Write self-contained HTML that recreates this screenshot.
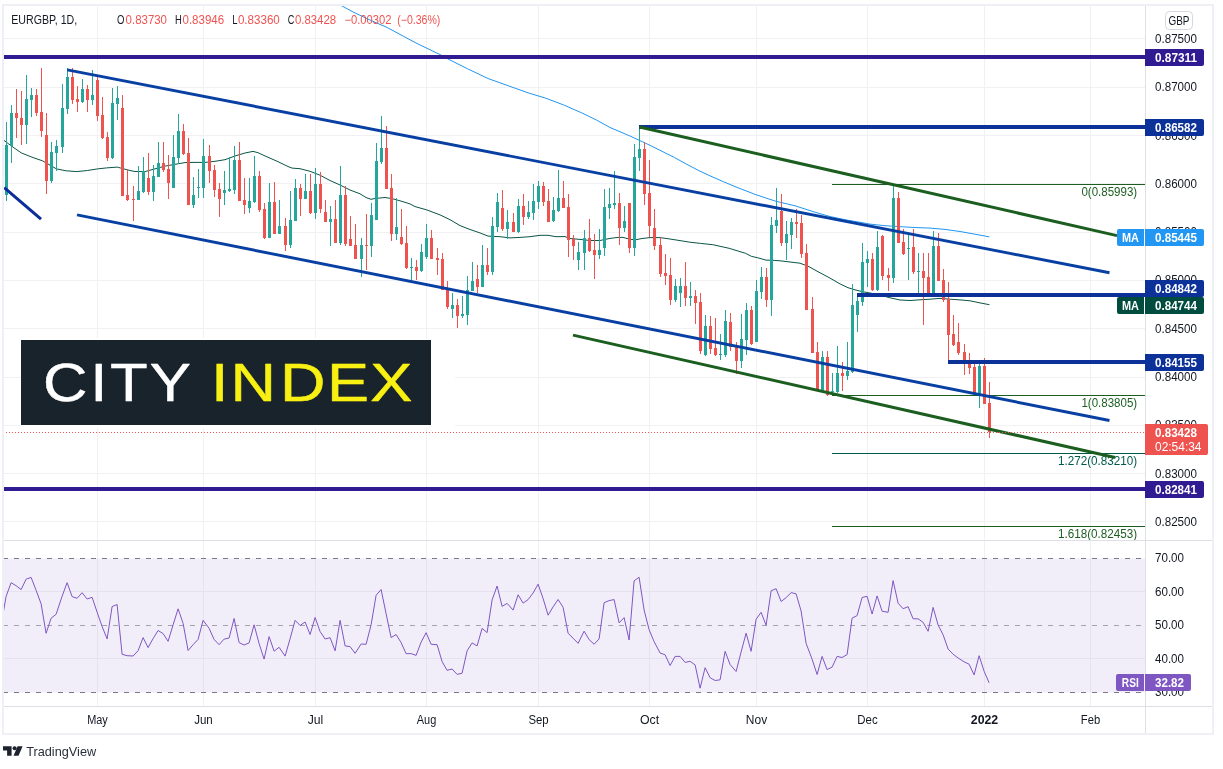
<!DOCTYPE html>
<html lang="en">
<head>
<meta charset="utf-8">
<title>EURGBP 1D chart</title>
<style>
html,body{margin:0;padding:0;background:#ffffff;}
body{width:1223px;height:769px;overflow:hidden;font-family:"Liberation Sans", Arial, sans-serif;}
svg{display:block;}
text{white-space:pre;}
</style>
</head>
<body>
<svg width="1223" height="769" viewBox="0 0 1223 769" font-family='"Liberation Sans", Arial, sans-serif'>
<rect x="0" y="0" width="1223" height="769" fill="#ffffff"/>
<path d="M97.5 6V706M203.5 6V706M315.5 6V706M426.5 6V706M538.5 6V706M649.5 6V706M756.5 6V706M867.5 6V706M984.5 6V706M1090.5 6V706M4 38.5H1145M4 87.5H1145M4 135.5H1145M4 183.5H1145M4 232.5H1145M4 280.5H1145M4 328.5H1145M4 377.5H1145M4 425.5H1145M4 473.5H1145M4 521.5H1145M4 591.5H1145M4 658.5H1145" stroke="#f1f1f3" stroke-width="1" fill="none" shape-rendering="crispEdges"/>
<rect x="4" y="558.5" width="1141" height="134" fill="#7e57c2" fill-opacity="0.1"/>
<path d="M3 558.5H1145" stroke="#787b86" stroke-opacity="1" stroke-width="1" stroke-dasharray="5 6" fill="none" shape-rendering="crispEdges"/>
<path d="M3 625.5H1145" stroke="#787b86" stroke-opacity="0.65" stroke-width="1" stroke-dasharray="5 6" fill="none" shape-rendering="crispEdges"/>
<path d="M3 692.5H1145" stroke="#787b86" stroke-opacity="1" stroke-width="1" stroke-dasharray="5 6" fill="none" shape-rendering="crispEdges"/>
<polyline fill="none" stroke="#7e57c2" stroke-width="1" stroke-linejoin="round" points="3.5,611.5 6.1,596.4 11.1,582.7 16.1,585.7 21.1,589.6 26.1,579.2 31.1,577.4 36.1,590.3 41.1,603.8 46.1,633.3 51.1,618.2 56.1,614.3 62.1,596.2 67.1,582.7 72.1,596.6 77.1,598.3 82.1,592.7 87.1,599 92.1,597.3 97.1,612.2 102.1,626.5 107.1,638.9 112.1,606.6 117.1,604.5 122.1,654.3 127.1,655.7 133.1,656 138.1,650.7 143.1,637.6 148.1,647.6 153.1,638.6 158.1,630.5 163.1,633.6 168.1,641.3 173.1,624.8 178.1,608.8 183.1,623.4 188.1,650.5 193.1,644.7 198.1,639.4 203.1,620.3 209.1,628.3 214.1,639.4 219.1,644.7 224.1,639.1 229.1,638 234.1,618.5 239.1,642.6 244.1,645 249.1,642.9 254.1,624.8 259.1,643.6 264.1,659.1 269.1,636.6 274.1,651.2 279.1,647.3 285.1,656.1 290.1,638.7 295.1,620.3 300.1,625.5 305.1,622 310.1,634.5 315.1,617.5 320.1,631.5 325.1,639 330.1,637.7 335.1,650.8 340.1,620.3 345.1,645.9 350.1,646.6 355.1,653.3 361.1,644 366.1,644.3 371.1,624.8 376.1,595.3 381.1,589.5 386.1,613.7 391.1,637.6 396.1,634.5 401.1,642.6 406.1,653.7 411.1,653.6 416.1,655.4 421.1,642.2 426.1,632.7 431.1,644.3 437.1,644.7 442.1,661.6 447.1,670.3 452.1,669 457.1,674.4 462.1,673.2 467.1,650.8 472.1,642.9 477.1,645.9 482.1,628.4 487.1,632.6 492.1,599.9 497.1,586 502.1,606.4 507.1,603.4 513.1,610.1 518.1,594.8 523.1,603.1 528.1,599.6 533.1,593 538.1,584.2 543.1,598.5 548.1,615.2 553.1,606.9 558.1,599.5 563.1,607.3 568.1,633.3 573.1,638.2 578.1,643.3 584.1,631.2 589.1,639.6 594.1,644.2 599.1,638.9 604.1,602.7 609.1,600.6 614.1,599.6 619.1,622.9 624.1,617.6 629.1,640 634.1,580.9 639.1,577.2 644.1,610 649.1,629.7 654.1,641.6 660.1,653 665.1,654.8 670.1,665.5 675.1,656.4 680.1,656.4 685.1,662.4 690.1,661.3 695.1,664.9 700.1,688.2 705.1,667.7 710.1,677.7 715.1,680.5 720.1,679.8 725.1,651.3 730.1,664.5 736.1,671.5 741.1,652 746.1,633.2 751.1,651.3 756.1,619.3 761.1,612.3 766.1,625.3 771.1,590.8 776.1,588.7 781.1,601.5 786.1,597.7 791.1,592.6 796.1,593.8 801.1,611 806.1,643.4 812.1,659.2 817.1,674.5 822.1,656.4 827.1,669.6 832.1,667.1 837.1,656.4 842.1,657.5 847.1,654.6 852.1,618.1 857.1,615.6 862.1,597.5 867.1,596.3 872.1,614 877.1,595.9 882.1,611.2 888.1,612.3 893.1,580.6 898.1,603.2 903.1,608.7 908.1,606.7 913.1,618.8 918.1,618.8 923.1,622.3 928.1,631.3 933.1,607.4 938.1,625 943.1,634.8 948.1,649 953.1,654.2 958.1,658 964.1,661.8 969.1,664.2 974.1,674.9 979.1,655.7 984.1,671.2 989.1,682.8"/>
<clipPath id="mainclip"><rect x="4" y="6" width="1141" height="534"/></clipPath>
<g clip-path="url(#mainclip)">
<polyline fill="none" stroke="#2196f3" stroke-width="1.0" stroke-linejoin="round" points="338.5,4 340.3,5 352.9,11.9 371.2,20.6 387.2,27.5 403.3,36.2 417,43.5 439.9,54.5 449,59.5 467.4,68.7 488,78.5 508.6,85.9 529.2,93.2 545.2,98 563.5,104.9 581.8,112.9 596.4,120 610,127.5 630,136 650,145.3 662,151.3 674.6,157.6 687,164.4 699,170.7 711,176.3 723.7,181.8 737,187.4 750,192.4 755,194.4 775,201 795,205.8 815,212.2 830,216.5 845,219.7 860,222.3 870,224.1 885,225.7 900,226.7 915,227.5 930,228.1 945,229.4 960,231.5 975,234.2 989.4,236.9"/>
<polyline fill="none" stroke="#0a5546" stroke-width="1.0" stroke-linejoin="round" points="3.2,139.8 11.4,146 21.3,152.9 32,157.2 42.7,160.9 56.5,168.9 66.1,170.8 76.8,171.6 87.4,170.5 97.5,168.9 106.6,167.9 117.3,167.1 122.6,168.6 130,170.5 135,171.5 145,171.6 155,168.8 165,166.1 175,164.3 185,162.6 195,162.4 205,162.4 215,161.3 225,159.7 235,156 245,153 253,151.4 258,152.7 266,156.4 277,161.2 288,166.5 292,168.1 300,168.7 310,171.3 320,175.2 330,180.5 340,185 350,190 360,193.8 366,197.5 371,199.3 375,198.5 385,197.5 392,198.6 400,200.8 410,203.9 415,206.6 426.5,209.8 440,214.9 450,219.7 460,225.6 470,229.5 480,232.9 488,236.1 500,236.7 510,237.9 520,237.4 530,236.7 540,235.3 548,235.3 556,236.7 565,236.6 570,238.5 580,239.4 590,240.5 600,240.5 610,238.4 618,237.4 623,237.4 630,239.3 636,239.7 642,238.5 650,237.6 660,237.6 670,239 680,240.6 689.8,242.2 700.5,243.4 712.8,244.7 721,246.5 729.1,248.3 737.3,250.8 745.5,253.3 751.3,256.3 757.8,257.8 766,260.1 774.2,260.4 780,260.8 790,262 800,263.2 808,266.2 818,271.7 830,278.1 840,283.9 848,287.7 855,289.8 862,291.6 870,293 880,295 890,297.8 900,300 910,300.5 920,299.8 930,299.2 940,298.4 950,299.2 960,299.9 970,300.8 980,302.9 989.4,304.7"/>
</g>
<path d="M6 122h1V201h-1zM11 105h1V163h-1zM26 75h1V144h-1zM31 88h1V117h-1zM51 142h1V183h-1zM56 140h1V171h-1zM62 84h1V153h-1zM67 68h1V114h-1zM82 79h1V103h-1zM92 70h1V105h-1zM112 88h1V159h-1zM117 86h1V120h-1zM138 166h1V200h-1zM143 157h1V193h-1zM153 165h1V201h-1zM158 142h1V177h-1zM173 135h1V188h-1zM178 114h1V164h-1zM193 177h1V208h-1zM198 169h1V198h-1zM203 139h1V198h-1zM224 171h1V205h-1zM229 157h1V192h-1zM234 146h1V194h-1zM249 178h1V213h-1zM254 156h1V203h-1zM269 183h1V238h-1zM279 200h1V234h-1zM290 191h1V248h-1zM295 179h1V221h-1zM305 174h1V199h-1zM315 168h1V219h-1zM330 206h1V246h-1zM340 166h1V245h-1zM361 238h1V277h-1zM371 203h1V257h-1zM376 143h1V220h-1zM381 116h1V164h-1zM396 198h1V240h-1zM411 258h1V281h-1zM421 244h1V272h-1zM426 224h1V259h-1zM452 293h1V318h-1zM462 296h1V318h-1zM467 276h1V325h-1zM472 262h1V291h-1zM482 245h1V287h-1zM492 217h1V275h-1zM497 193h1V232h-1zM507 210h1V239h-1zM518 199h1V233h-1zM528 201h1V219h-1zM533 184h1V220h-1zM538 181h1V209h-1zM553 197h1V222h-1zM558 170h1V212h-1zM578 242h1V270h-1zM584 230h1V270h-1zM599 229h1V259h-1zM604 189h1V256h-1zM609 188h1V219h-1zM614 171h1V209h-1zM624 206h1V232h-1zM634 144h1V256h-1zM639 127h1V171h-1zM675 279h1V302h-1zM680 278h1V307h-1zM690 282h1V306h-1zM705 315h1V356h-1zM720 334h1V360h-1zM725 310h1V357h-1zM741 314h1V368h-1zM746 303h1V355h-1zM756 280h1V342h-1zM761 267h1V299h-1zM771 217h1V316h-1zM776 188h1V233h-1zM786 221h1V260h-1zM791 218h1V249h-1zM822 351h1V391h-1zM832 373h1V395h-1zM837 346h1V393h-1zM847 342h1V380h-1zM852 284h1V373h-1zM857 293h1V332h-1zM862 243h1V306h-1zM867 251h1V287h-1zM877 231h1V291h-1zM893 186h1V283h-1zM908 235h1V280h-1zM918 253h1V293h-1zM933 231h1V294h-1zM979 364h1V408h-1zM5 145h3V195h-3zM10 113h3V146h-3zM25 99h3V125h-3zM30 95h3V100h-3zM50 152h3V181h-3zM55 146h3V153h-3zM61 108h3V147h-3zM66 77h3V109h-3zM81 89h3V102h-3zM91 95h3V100h-3zM111 103h3V158h-3zM116 98h3V104h-3zM137 191h3V200h-3zM142 171h3V192h-3zM152 176h3V192h-3zM157 163h3V177h-3zM172 157h3V188h-3zM177 131h3V158h-3zM192 195h3V205h-3zM197 187h3V188h-3zM202 156h3V188h-3zM223 190h3V193h-3zM228 189h3V191h-3zM233 160h3V190h-3zM248 201h3V208h-3zM253 176h3V202h-3zM268 202h3V238h-3zM278 226h3V234h-3zM289 220h3V245h-3zM294 188h3V221h-3zM304 191h3V199h-3zM314 184h3V213h-3zM329 219h3V222h-3zM339 195h3V243h-3zM360 245h3V259h-3zM370 215h3V246h-3zM375 161h3V220h-3zM380 148h3V162h-3zM395 227h3V234h-3zM410 267h3V268h-3zM420 252h3V271h-3zM425 238h3V257h-3zM451 305h3V309h-3zM461 314h3V316h-3zM466 290h3V315h-3zM471 281h3V291h-3zM481 265h3V287h-3zM491 226h3V272h-3zM496 202h3V227h-3zM506 222h3V229h-3zM517 206h3V232h-3zM527 212h3V217h-3zM532 201h3V213h-3zM537 186h3V202h-3zM552 210h3V221h-3zM557 198h3V211h-3zM577 252h3V260h-3zM583 238h3V253h-3zM598 250h3V255h-3zM603 207h3V248h-3zM608 204h3V208h-3zM613 203h3V205h-3zM623 221h3V228h-3zM633 157h3V248h-3zM638 149h3V158h-3zM674 286h3V300h-3zM679 286h3V293h-3zM689 296h3V298h-3zM704 326h3V355h-3zM719 354h3V355h-3zM724 321h3V355h-3zM740 339h3V361h-3zM745 310h3V340h-3zM755 291h3V342h-3zM760 277h3V292h-3zM770 225h3V300h-3zM775 220h3V226h-3zM785 234h3V243h-3zM790 222h3V235h-3zM821 357h3V390h-3zM831 391h3V392h-3zM836 373h3V392h-3zM846 371h3V376h-3zM851 305h3V372h-3zM856 301h3V315h-3zM861 262h3V302h-3zM866 259h3V263h-3zM876 247h3V290h-3zM892 198h3V278h-3zM907 248h3V249h-3zM917 271h3V272h-3zM932 246h3V294h-3zM978 366h3V394h-3z" fill="#26a69a" shape-rendering="crispEdges"/>
<path d="M16 89h1V138h-1zM21 91h1V145h-1zM36 89h1V116h-1zM41 68h1V137h-1zM46 113h1V194h-1zM72 68h1V104h-1zM77 86h1V112h-1zM87 85h1V112h-1zM97 77h1V121h-1zM102 97h1V139h-1zM107 132h1V161h-1zM122 95h1V196h-1zM127 170h1V201h-1zM133 186h1V221h-1zM148 153h1V195h-1zM163 142h1V172h-1zM168 155h1V199h-1zM183 124h1V155h-1zM188 138h1V205h-1zM209 145h1V183h-1zM214 165h1V197h-1zM219 183h1V217h-1zM239 142h1V201h-1zM244 178h1V214h-1zM259 171h1V212h-1zM264 203h1V239h-1zM274 182h1V234h-1zM285 218h1V251h-1zM300 184h1V216h-1zM310 174h1V214h-1zM320 172h1V213h-1zM325 200h1V222h-1zM335 200h1V243h-1zM345 186h1V246h-1zM350 216h1V246h-1zM355 224h1V259h-1zM366 214h1V270h-1zM386 126h1V189h-1zM391 174h1V241h-1zM401 209h1V245h-1zM406 226h1V269h-1zM416 260h1V280h-1zM431 230h1V259h-1zM437 248h1V275h-1zM442 253h1V290h-1zM447 281h1V309h-1zM457 299h1V328h-1zM477 265h1V293h-1zM487 248h1V275h-1zM502 190h1V231h-1zM513 213h1V232h-1zM523 194h1V225h-1zM543 182h1V206h-1zM548 189h1V222h-1zM563 181h1V208h-1zM568 194h1V257h-1zM573 235h1V260h-1zM589 219h1V252h-1zM594 234h1V279h-1zM619 193h1V245h-1zM629 203h1V253h-1zM644 142h1V205h-1zM649 160h1V237h-1zM654 209h1V250h-1zM660 237h1V277h-1zM665 254h1V285h-1zM670 258h1V305h-1zM685 262h1V306h-1zM695 290h1V324h-1zM700 293h1V354h-1zM710 316h1V354h-1zM715 318h1V356h-1zM730 313h1V351h-1zM736 342h1V374h-1zM751 306h1V345h-1zM766 268h1V307h-1zM781 194h1V246h-1zM796 209h1V238h-1zM801 215h1V258h-1zM806 244h1V310h-1zM812 297h1V353h-1zM817 342h1V390h-1zM827 351h1V396h-1zM842 362h1V391h-1zM872 253h1V291h-1zM882 235h1V280h-1zM888 268h1V291h-1zM898 192h1V243h-1zM903 229h1V255h-1zM913 229h1V274h-1zM923 253h1V325h-1zM928 253h1V295h-1zM938 233h1V281h-1zM943 269h1V302h-1zM948 282h1V360h-1zM953 315h1V346h-1zM958 323h1V355h-1zM964 344h1V375h-1zM969 353h1V374h-1zM974 364h1V393h-1zM984 358h1V404h-1zM989 382h1V438h-1zM15 113h3V118h-3zM20 118h3V125h-3zM35 95h3V113h-3zM40 112h3V131h-3zM45 135h3V181h-3zM71 77h3V100h-3zM76 99h3V102h-3zM86 89h3V100h-3zM96 80h3V116h-3zM101 115h3V138h-3zM106 137h3V158h-3zM121 108h3V196h-3zM126 195h3V200h-3zM132 199h3V200h-3zM147 178h3V192h-3zM162 163h3V170h-3zM167 169h3V183h-3zM182 131h3V154h-3zM187 153h3V205h-3zM208 156h3V171h-3zM213 170h3V190h-3zM218 189h3V199h-3zM238 160h3V201h-3zM243 200h3V205h-3zM258 176h3V210h-3zM263 209h3V238h-3zM273 202h3V234h-3zM284 226h3V245h-3zM299 188h3V199h-3zM309 191h3V213h-3zM319 184h3V209h-3zM324 212h3V222h-3zM334 219h3V243h-3zM344 195h3V244h-3zM349 239h3V246h-3zM354 245h3V259h-3zM365 245h3V246h-3zM385 148h3V189h-3zM390 188h3V234h-3zM400 237h3V244h-3zM405 243h3V268h-3zM415 267h3V271h-3zM430 238h3V259h-3zM436 258h3V260h-3zM441 259h3V290h-3zM446 290h3V307h-3zM456 305h3V316h-3zM476 279h3V287h-3zM486 265h3V272h-3zM501 208h3V229h-3zM512 222h3V232h-3zM522 206h3V217h-3zM542 186h3V202h-3zM547 201h3V222h-3zM562 198h3V208h-3zM567 207h3V240h-3zM572 239h3V246h-3zM588 238h3V251h-3zM593 250h3V255h-3zM618 203h3V228h-3zM628 203h3V248h-3zM643 149h3V194h-3zM648 193h3V226h-3zM653 228h3V246h-3zM659 245h3V274h-3zM664 273h3V276h-3zM669 275h3V300h-3zM684 286h3V298h-3zM694 296h3V303h-3zM699 302h3V351h-3zM709 326h3V349h-3zM714 348h3V355h-3zM729 322h3V347h-3zM735 347h3V361h-3zM750 310h3V344h-3zM765 277h3V300h-3zM780 211h3V243h-3zM795 222h3V224h-3zM800 223h3V254h-3zM805 253h3V310h-3zM811 309h3V353h-3zM816 352h3V389h-3zM826 357h3V395h-3zM841 373h3V376h-3zM871 259h3V290h-3zM881 236h3V276h-3zM887 275h3V278h-3zM897 198h3V243h-3zM902 242h3V254h-3zM912 247h3V272h-3zM922 271h3V278h-3zM927 277h3V293h-3zM937 246h3V281h-3zM942 280h3V300h-3zM947 299h3V335h-3zM952 334h3V345h-3zM957 342h3V353h-3zM963 352h3V363h-3zM968 360h3V368h-3zM973 367h3V393h-3zM983 366h3V404h-3zM988 403h3V432h-3z" fill="#ef5350" shape-rendering="crispEdges"/>
<g clip-path="url(#mainclip)">
<path d="M832 184.5H1145" stroke="#1b5e20" stroke-width="1" fill="none" shape-rendering="crispEdges"/>
<path d="M832 395.5H1145" stroke="#1b5e20" stroke-width="1" fill="none" shape-rendering="crispEdges"/>
<path d="M832 453.5H1145" stroke="#00594c" stroke-width="1" fill="none" shape-rendering="crispEdges"/>
<path d="M832 526.5H1145" stroke="#1b5e20" stroke-width="1" fill="none" shape-rendering="crispEdges"/>
</g>
<text x="1081.4" y="195.5" font-size="12" fill="#1b5e20" textLength="55.8" lengthAdjust="spacingAndGlyphs">0(0.85993)</text>
<text x="1081.4" y="406.5" font-size="12" fill="#1b5e20" textLength="55.8" lengthAdjust="spacingAndGlyphs">1(0.83805)</text>
<text x="1058" y="464.5" font-size="12" fill="#00594c" textLength="79.2" lengthAdjust="spacingAndGlyphs">1.272(0.83210)</text>
<text x="1058" y="537.5" font-size="12" fill="#1b5e20" textLength="79.2" lengthAdjust="spacingAndGlyphs">1.618(0.82453)</text>
<rect x="4" y="55" width="1141" height="4" fill="#311b92" shape-rendering="crispEdges"/>
<rect x="4" y="487" width="1141" height="4" fill="#311b92" shape-rendering="crispEdges"/>
<rect x="639" y="125" width="506" height="4" fill="#0c3299" shape-rendering="crispEdges"/>
<rect x="857" y="293" width="288" height="4" fill="#0c3299" shape-rendering="crispEdges"/>
<rect x="948" y="360" width="197" height="4" fill="#0c3299" shape-rendering="crispEdges"/>
<line x1="639.5" y1="127" x2="1117" y2="235.6" stroke="#1b5e20" stroke-width="3.0" stroke-linecap="butt"/>
<line x1="573" y1="335.1" x2="1115" y2="457.5" stroke="#1b5e20" stroke-width="3.0" stroke-linecap="butt"/>
<line x1="67.3" y1="69.81" x2="1109.5" y2="272.73" stroke="#083fa3" stroke-width="2.9" stroke-linecap="butt"/>
<line x1="77" y1="214.95" x2="1109.5" y2="420.52" stroke="#083fa3" stroke-width="2.9" stroke-linecap="butt"/>
<line x1="4.2" y1="187.6" x2="41" y2="219.2" stroke="#0b2c99" stroke-width="3.0" stroke-linecap="butt"/>
<path d="M3 432.5H1145" stroke="#ef5350" stroke-width="1" stroke-dasharray="1 2" fill="none" shape-rendering="crispEdges"/>
<path d="M1145.5 6V734M3 540.5H1213M3 706.5H1213" stroke="#dddfe4" stroke-width="1" fill="none" shape-rendering="crispEdges"/>
<rect x="3" y="5" width="1210" height="729" fill="none" stroke="#eef0f5" stroke-width="2"/>
<text x="1155" y="42.9" font-size="12" fill="#131722" textLength="42" lengthAdjust="spacingAndGlyphs">0.87500</text>
<text x="1155" y="91.2" font-size="12" fill="#131722" textLength="42" lengthAdjust="spacingAndGlyphs">0.87000</text>
<text x="1155" y="139.5" font-size="12" fill="#131722" textLength="42" lengthAdjust="spacingAndGlyphs">0.86500</text>
<text x="1155" y="187.8" font-size="12" fill="#131722" textLength="42" lengthAdjust="spacingAndGlyphs">0.86000</text>
<text x="1155" y="236.1" font-size="12" fill="#131722" textLength="42" lengthAdjust="spacingAndGlyphs">0.85500</text>
<text x="1155" y="284.4" font-size="12" fill="#131722" textLength="42" lengthAdjust="spacingAndGlyphs">0.85000</text>
<text x="1155" y="332.7" font-size="12" fill="#131722" textLength="42" lengthAdjust="spacingAndGlyphs">0.84500</text>
<text x="1155" y="381" font-size="12" fill="#131722" textLength="42" lengthAdjust="spacingAndGlyphs">0.84000</text>
<text x="1155" y="429.3" font-size="12" fill="#131722" textLength="42" lengthAdjust="spacingAndGlyphs">0.83500</text>
<text x="1155" y="477.6" font-size="12" fill="#131722" textLength="42" lengthAdjust="spacingAndGlyphs">0.83000</text>
<text x="1155" y="525.9" font-size="12" fill="#131722" textLength="42" lengthAdjust="spacingAndGlyphs">0.82500</text>
<text x="1155" y="562.3" font-size="12" fill="#131722" textLength="29" lengthAdjust="spacingAndGlyphs">70.00</text>
<text x="1155" y="595.8" font-size="12" fill="#131722" textLength="29" lengthAdjust="spacingAndGlyphs">60.00</text>
<text x="1155" y="629.3" font-size="12" fill="#131722" textLength="29" lengthAdjust="spacingAndGlyphs">50.00</text>
<text x="1155" y="662.8" font-size="12" fill="#131722" textLength="29" lengthAdjust="spacingAndGlyphs">40.00</text>
<text x="1155" y="696.3" font-size="12" fill="#131722" textLength="29" lengthAdjust="spacingAndGlyphs">30.00</text>
<rect x="1165.5" y="11.5" width="27" height="18" rx="4" ry="4" fill="#ffffff" stroke="#d5d8e0" stroke-width="1"/>
<text x="1179" y="24.8" text-anchor="middle" font-size="12" fill="#131722" textLength="21" lengthAdjust="spacingAndGlyphs">GBP</text>
<path d="M1145 49h57a2 2 0 0 1 2 2v13a2 2 0 0 1 -2 2h-57z" fill="#311b92"/>
<text x="1155" y="61.8" font-size="12" font-weight="bold" fill="#ffffff" textLength="42" lengthAdjust="spacingAndGlyphs">0.87311</text>
<path d="M1145 119h57a2 2 0 0 1 2 2v13a2 2 0 0 1 -2 2h-57z" fill="#0c3299"/>
<text x="1155" y="131.8" font-size="12" font-weight="bold" fill="#ffffff" textLength="42" lengthAdjust="spacingAndGlyphs">0.86582</text>
<path d="M1145 229h57a2 2 0 0 1 2 2v13a2 2 0 0 1 -2 2h-57z" fill="#2196f3"/>
<text x="1155" y="241.8" font-size="12" font-weight="bold" fill="#ffffff" textLength="42" lengthAdjust="spacingAndGlyphs">0.85445</text>
<path d="M1119 229h25v17h-25a2 2 0 0 1 -2 -2v-13a2 2 0 0 1 2 -2z" fill="#2196f3"/>
<text x="1130.5" y="241.8" font-size="12" font-weight="bold" text-anchor="middle" fill="#ffffff" textLength="17" lengthAdjust="spacingAndGlyphs">MA</text>
<path d="M1145 280h57a2 2 0 0 1 2 2v13a2 2 0 0 1 -2 2h-57z" fill="#0c3299"/>
<text x="1155" y="292.8" font-size="12" font-weight="bold" fill="#ffffff" textLength="42" lengthAdjust="spacingAndGlyphs">0.84842</text>
<path d="M1145 297h57a2 2 0 0 1 2 2v13a2 2 0 0 1 -2 2h-57z" fill="#004d40"/>
<text x="1155" y="309.8" font-size="12" font-weight="bold" fill="#ffffff" textLength="42" lengthAdjust="spacingAndGlyphs">0.84744</text>
<path d="M1119 297h25v17h-25a2 2 0 0 1 -2 -2v-13a2 2 0 0 1 2 -2z" fill="#004d40"/>
<text x="1130.5" y="309.8" font-size="12" font-weight="bold" text-anchor="middle" fill="#ffffff" textLength="17" lengthAdjust="spacingAndGlyphs">MA</text>
<path d="M1145 354h57a2 2 0 0 1 2 2v13a2 2 0 0 1 -2 2h-57z" fill="#0c3299"/>
<text x="1155" y="366.8" font-size="12" font-weight="bold" fill="#ffffff" textLength="42" lengthAdjust="spacingAndGlyphs">0.84155</text>
<path d="M1145 481h57a2 2 0 0 1 2 2v13a2 2 0 0 1 -2 2h-57z" fill="#311b92"/>
<text x="1155" y="493.8" font-size="12" font-weight="bold" fill="#ffffff" textLength="42" lengthAdjust="spacingAndGlyphs">0.82841</text>
<path d="M1145 424h61a2 2 0 0 1 2 2v27a2 2 0 0 1 -2 2h-61z" fill="#ef5350"/>
<text x="1155" y="437" font-size="12" font-weight="bold" fill="#ffffff" textLength="42" lengthAdjust="spacingAndGlyphs">0.83428</text>
<text x="1155" y="450.6" font-size="12" fill="#ffffff" textLength="46.5" lengthAdjust="spacingAndGlyphs">02:54:34</text>
<path d="M1118 674h26v17h-26a2 2 0 0 1 -2 -2v-13a2 2 0 0 1 2 -2z" fill="#7e57c2"/>
<text x="1130.3" y="686.8" font-size="12" font-weight="bold" text-anchor="middle" fill="#ffffff" textLength="17" lengthAdjust="spacingAndGlyphs">RSI</text>
<path d="M1145 674h44a2 2 0 0 1 2 2v13a2 2 0 0 1 -2 2h-44z" fill="#7e57c2"/>
<text x="1155" y="686.8" font-size="12" font-weight="bold" fill="#ffffff" textLength="29" lengthAdjust="spacingAndGlyphs">32.82</text>
<text x="11.2" y="24.2" font-size="12" fill="#131722" textLength="66" lengthAdjust="spacingAndGlyphs">EURGBP, 1D,</text>
<text x="117" y="24.2" font-size="12" fill="#131722" textLength="7.4" lengthAdjust="spacingAndGlyphs">O</text>
<text x="125.6" y="24.2" font-size="12" fill="#ef5350" textLength="41.4" lengthAdjust="spacingAndGlyphs">0.83730</text>
<text x="174.9" y="24.2" font-size="12" fill="#131722" textLength="6.8" lengthAdjust="spacingAndGlyphs">H</text>
<text x="182.5" y="24.2" font-size="12" fill="#ef5350" textLength="41.7" lengthAdjust="spacingAndGlyphs">0.83946</text>
<text x="232.2" y="24.2" font-size="12" fill="#131722" textLength="5.2" lengthAdjust="spacingAndGlyphs">L</text>
<text x="237.9" y="24.2" font-size="12" fill="#ef5350" textLength="41.9" lengthAdjust="spacingAndGlyphs">0.83360</text>
<text x="287.7" y="24.2" font-size="12" fill="#131722" textLength="6.6" lengthAdjust="spacingAndGlyphs">C</text>
<text x="294.9" y="24.2" font-size="12" fill="#ef5350" textLength="41.3" lengthAdjust="spacingAndGlyphs">0.83428</text>
<text x="344.5" y="24.2" font-size="12" fill="#ef5350" textLength="47" lengthAdjust="spacingAndGlyphs">−0.00302</text>
<text x="397.2" y="24.2" font-size="12" fill="#ef5350" textLength="43.2" lengthAdjust="spacingAndGlyphs">(−0.36%)</text>
<text x="87.2" y="723.8" font-size="12" fill="#131722" textLength="20.6" lengthAdjust="spacingAndGlyphs">May</text>
<text x="194.2" y="723.8" font-size="12" fill="#131722" textLength="18.6" lengthAdjust="spacingAndGlyphs">Jun</text>
<text x="307.7" y="723.8" font-size="12" fill="#131722" textLength="15.6" lengthAdjust="spacingAndGlyphs">Jul</text>
<text x="416.75" y="723.8" font-size="12" fill="#131722" textLength="19.5" lengthAdjust="spacingAndGlyphs">Aug</text>
<text x="528.4" y="723.8" font-size="12" fill="#131722" textLength="20.2" lengthAdjust="spacingAndGlyphs">Sep</text>
<text x="639.9" y="723.8" font-size="12" fill="#131722" textLength="19.2" lengthAdjust="spacingAndGlyphs">Oct</text>
<text x="745.85" y="723.8" font-size="12" fill="#131722" textLength="21.3" lengthAdjust="spacingAndGlyphs">Nov</text>
<text x="857.35" y="723.8" font-size="12" fill="#131722" textLength="20.3" lengthAdjust="spacingAndGlyphs">Dec</text>
<text x="970.8" y="723.8" font-size="12" fill="#131722" font-weight="bold" textLength="27.4" lengthAdjust="spacingAndGlyphs">2022</text>
<text x="1080.85" y="723.8" font-size="12" fill="#131722" textLength="19.3" lengthAdjust="spacingAndGlyphs">Feb</text>
<rect x="21" y="338.5" width="434.2" height="89.7" fill="#ffffff"/>
<rect x="21" y="340" width="410" height="85" fill="#18232c"/>
<text transform="matrix(1.1350 0 0 1 0 400.60)" x="37.87 79.56 96.96 131.88" y="0" font-size="54.3" fill="#ffffff" stroke="#ffffff" stroke-width="0.5" stroke-linejoin="round" vector-effect="non-scaling-stroke">CITY</text>
<text transform="matrix(1.1600 0 0 1 0 400.60)" x="181.82 198.79 241.29 282.00 319.25" y="0" font-size="54.3" fill="#f8f012" stroke="#f8f012" stroke-width="0.5" stroke-linejoin="round" vector-effect="non-scaling-stroke">INDEX</text>
<g fill="#1e222d"><path d="M3 746.2h8.6v9.5h-4.5v-5.3h-4.1z"/><circle cx="14.6" cy="748.3" r="2.05"/><path d="M17.6 746.2h5l-4.1 9.5h-5z"/></g>
<text x="26.2" y="755.8" font-size="13" fill="#2a2e39" textLength="70" lengthAdjust="spacingAndGlyphs">TradingView</text>
</svg>
</body>
</html>
